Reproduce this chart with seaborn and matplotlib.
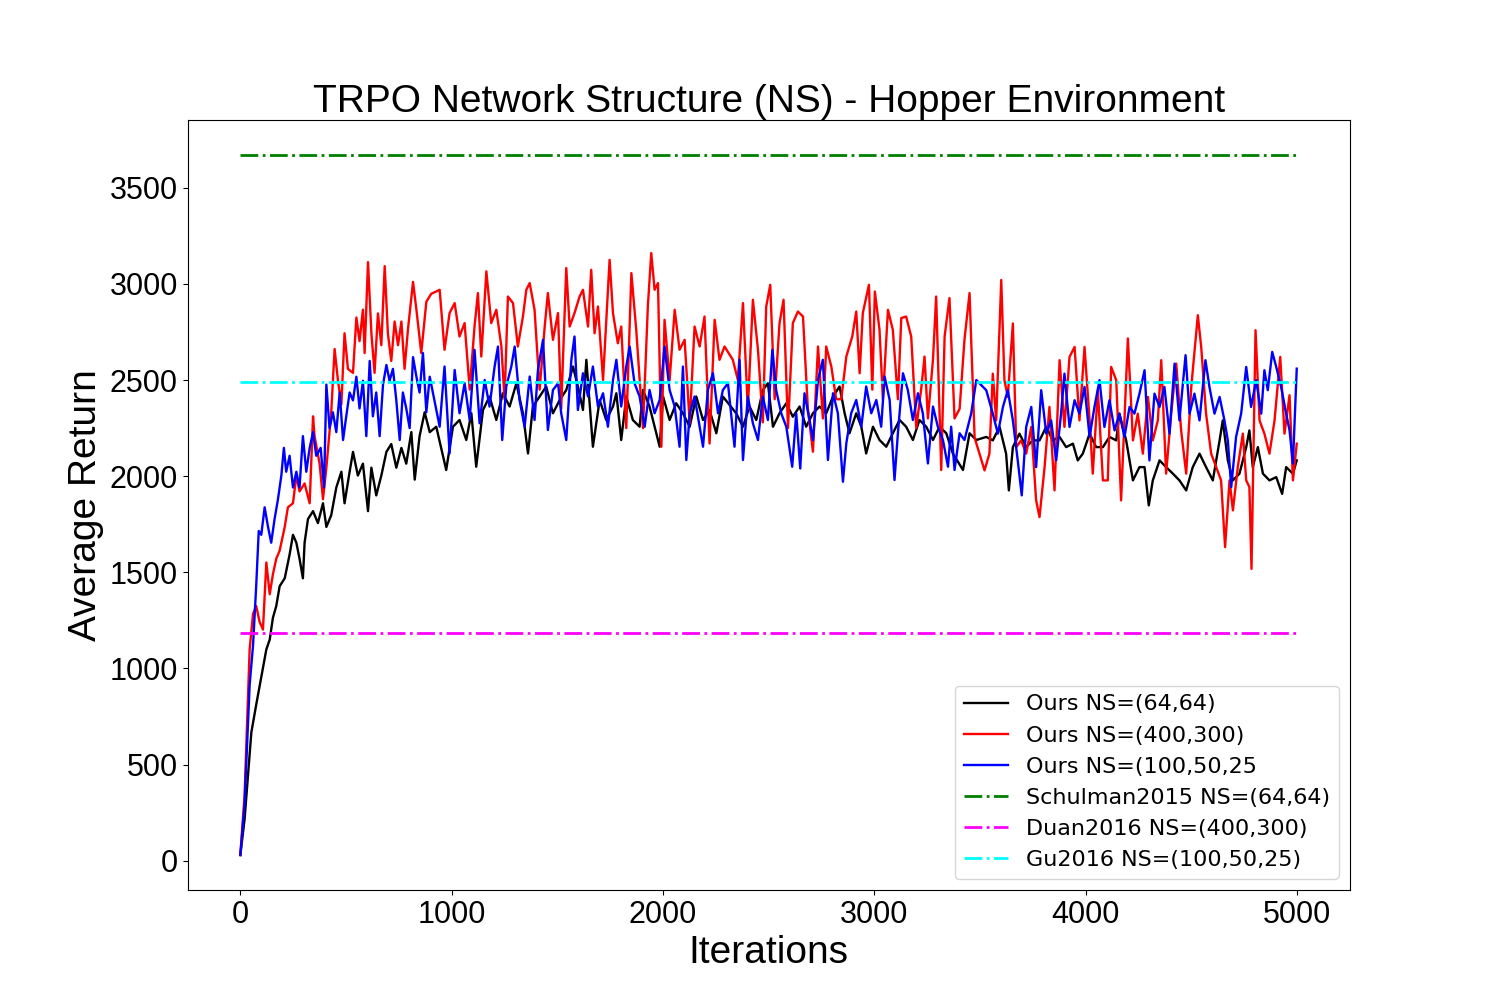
import matplotlib
matplotlib.use('Agg')
import matplotlib.pyplot as plt
import seaborn as sns

# Iterations / returns
it_black = [0, 20, 52, 75, 99, 123, 139, 154, 170, 186, 210, 233, 249, 265, 280, 296, 304, 320, 344, 367,
            391, 407, 430, 454, 478, 493, 517, 533, 556, 580, 604, 620, 643, 667, 691, 714, 738, 762, 785, 809,
            825, 848, 872, 896,
            927, 974, 1006, 1037, 1069, 1093, 1116, 1148, 1179, 1211, 1242, 1274, 1306, 1337, 1361, 1384, 1416,
            1447, 1479, 1511, 1542, 1574, 1597, 1621, 1637, 1668, 1700, 1731, 1763, 1779, 1802, 1826, 1857, 1889,
            1905, 1936, 1984, 2000, 2031, 2062, 2094, 2126, 2157, 2189, 2220, 2252, 2283,
            2346, 2378, 2409, 2441, 2472, 2496, 2520, 2551, 2583, 2614, 2646, 2677, 2709, 2740, 2772, 2804, 2835,
            2859, 2882, 2914, 2938, 2961, 2993, 3024, 3056, 3087, 3119, 3150, 3182, 3213, 3245, 3277, 3308, 3340,
            3371, 3419, 3450, 3482,
            3529, 3560, 3592, 3623, 3636, 3655, 3686, 3718, 3749, 3781, 3813, 3844, 3876, 3907, 3939, 3962, 3986,
            4018, 4049, 4081, 4112, 4144, 4159, 4191, 4223, 4254, 4278, 4298, 4317, 4349, 4380, 4412, 4443, 4475,
            4506, 4538, 4569, 4601, 4633, 4648, 4672, 4696, 4727, 4759, 4774, 4790, 4814, 4838, 4869, 4901, 4929,
            4948, 4980, 4998]
ret_black = [30, 215, 667, 811, 955, 1099, 1150, 1263, 1325, 1428, 1469, 1592, 1695, 1654, 1571, 1469, 1654, 1777,
             1818, 1756, 1859, 1736, 1797, 1941, 2023, 1859, 2023, 2126, 2003, 2065, 1818, 2044, 1900, 2003, 2126,
             2167, 2044, 2147, 2065, 2229, 1982, 2208, 2332, 2229,
             2257, 2032, 2257, 2292, 2188, 2327, 2049, 2344, 2414, 2292, 2431, 2362, 2483, 2327, 2118, 2362, 2414,
             2466, 2327, 2396, 2448, 2570, 2466, 2344, 2605, 2153, 2396, 2292, 2362, 2431, 2188, 2414, 2292, 2257,
             2448, 2362, 2153, 2414, 2292, 2379, 2327, 2257, 2414, 2292, 2344, 2223, 2414,
             2327, 2257, 2362, 2292, 2448, 2483, 2257, 2327, 2379, 2309, 2362, 2257, 2327, 2362, 2327, 2414, 2466,
             2327, 2223, 2327, 2257, 2118, 2257, 2188, 2153, 2223, 2292, 2257, 2188, 2292, 2257, 2188, 2257, 2223,
             2118, 2032, 2223, 2188,
             2204, 2186, 2256, 2117, 1926, 2151, 2221, 2151, 2186, 2186, 2256, 2186, 2204, 2151, 2169, 2082, 2117,
             2221, 2151, 2151, 2204, 2186, 2325, 2186, 1978, 2047, 2047, 1848, 1978, 2082, 2047, 2013, 1978, 1926,
             2047, 2117, 2047, 1978, 2186, 2290, 2082, 1978, 2013, 2151, 2238, 2047, 2151, 2013, 1978, 1995, 1908,
             2047, 2013, 2082]

it_red = [0, 20, 44, 60, 75, 91, 107, 123, 139, 154, 170, 186, 210, 225, 249, 265, 280, 304, 328, 344,
          351, 375, 391, 407, 430, 446, 462, 478, 493, 509, 533, 549, 564, 580, 588, 604, 620, 635, 651, 667,
          683, 698, 714, 730, 746, 762, 777, 793, 817, 833, 856, 880, 903,
          943, 966, 990, 1014, 1037, 1061, 1085, 1108, 1124, 1140, 1164, 1187, 1211, 1235, 1250, 1266, 1290, 1313,
          1337, 1353, 1369, 1392, 1416, 1440, 1455, 1479, 1503, 1518, 1542, 1558, 1581, 1605, 1621, 1645, 1660,
          1676, 1692, 1716, 1747, 1763, 1786, 1802, 1826, 1850, 1873, 1905, 1928, 1944, 1960, 1976, 1992, 2007,
          2031, 2055, 2078, 2102, 2126, 2149, 2173, 2196, 2220, 2244, 2267, 2291,
          2330, 2354, 2378, 2401, 2425, 2449, 2472, 2488, 2507, 2528, 2551, 2570, 2591, 2614, 2638, 2662, 2685,
          2709, 2733, 2756, 2772, 2796, 2819, 2843, 2867, 2895, 2914, 2930, 2945, 2974, 2990, 3002, 3024, 3040,
          3064, 3087, 3111, 3127, 3150, 3174, 3198, 3221, 3237, 3253, 3277, 3292, 3316, 3332, 3355, 3379, 3403,
          3426, 3450, 3474,
          3521, 3544, 3560, 3576, 3600, 3615, 3631, 3655, 3671, 3694, 3718, 3742, 3765, 3781, 3805, 3828, 3852,
          3876, 3899, 3923, 3947, 3970, 3994, 4018, 4033, 4057, 4081, 4104, 4120, 4144, 4167, 4183, 4199, 4223,
          4246, 4270, 4294, 4317, 4341, 4357, 4380, 4404, 4428, 4451, 4475, 4499, 4519, 4530, 4546, 4569, 4593,
          4617, 4640, 4659, 4680, 4696, 4719, 4743, 4759, 4774, 4784, 4803, 4822, 4845, 4869, 4893, 4920, 4940,
          4964, 4980, 4998]
ret_red = [30, 339, 1099, 1284, 1325, 1243, 1202, 1551, 1386, 1489, 1571, 1613, 1736, 1838, 1859, 2003, 1921, 1962,
           1859, 2311, 2208, 2065, 1880, 2044, 2332, 2661, 2496, 2373, 2743, 2558, 2537, 2825, 2702, 2866, 2640,
           3113, 2743, 2537, 2846, 2681, 3092, 2743, 2599, 2804, 2681, 2804, 2558, 2763, 3010, 2866, 2640, 2907, 2948,
           2969, 2657, 2848, 2900, 2726, 2796, 2450, 2778, 2952, 2622, 3065, 2796, 2865, 2674, 2400, 2934, 2900,
           2674, 2830, 2969, 3004, 2865, 2450, 2778, 2952, 2709, 2848, 2350, 3082, 2778, 2848, 2934, 2969, 2778,
           3073, 2743, 2882, 2500, 3125, 2848, 2691, 2778, 2250, 3056, 2761, 2250, 2882, 3160, 2969, 3004, 2153,
           2813, 2500, 2865, 2657, 2709, 2275, 2778, 2674, 2830, 2170, 2813, 2605, 2674,
           2605, 2500, 2900, 2350, 2917, 2657, 2280, 2882, 2995, 2400, 2796, 2917, 2250, 2796, 2856, 2830, 2350,
           2127, 2674, 2300, 2674, 2570, 2400, 2400, 2622, 2726, 2856, 2535, 2848, 2995, 2450, 2960, 2761, 2400,
           2865, 2761, 2400, 2822, 2830, 2726, 2250, 2450, 2622, 2300, 2605, 2934, 2032, 2726, 2926, 2300, 2350,
           2709, 2952, 2200,
           2030, 2117, 2533, 2290, 3020, 2499, 2412, 2794, 2151, 2186, 2117, 2256, 1874, 1787, 2047, 2360, 1926,
           2603, 2256, 2620, 2672, 2290, 2672, 2290, 2013, 2447, 1978, 1978, 2568, 2499, 1874, 2290, 2716, 2186,
           2325, 2117, 2412, 2186, 2290, 2603, 2013, 2325, 2585, 2238, 2013, 2464, 2707, 2837, 2672, 2325, 2117,
           2047, 1978, 1631, 1978, 1822, 2047, 2221, 1978, 1943, 1518, 2759, 2290, 2221, 2117, 2290, 2620, 2221,
           2421, 1978, 2169]

it_blue = [0, 20, 44, 60, 75, 87, 99, 115, 131, 146, 162, 178, 194, 206, 217, 233, 249, 265, 280, 296,
           312, 328, 344, 359, 380, 396, 407, 422, 438, 454, 470, 486, 501, 517, 533, 549, 564, 580, 596, 612,
           627, 643, 659, 675, 691, 706, 722, 738, 754, 769, 785, 801, 817, 833, 848, 864, 880, 896,
           943, 966, 990, 1014, 1037, 1061, 1085, 1108, 1132, 1156, 1179, 1203, 1219, 1239, 1258, 1282, 1298, 1321,
           1345, 1369, 1392, 1408, 1432, 1455, 1479, 1503, 1518, 1542, 1566, 1581, 1597, 1621, 1645, 1668, 1692,
           1716, 1739, 1763, 1779, 1802, 1826, 1842, 1865, 1889, 1913, 1936, 1960, 1984, 2007, 2031, 2055, 2078,
           2094, 2110, 2126, 2149, 2173, 2189, 2212, 2236, 2260, 2283, 2307,
           2338, 2362, 2378, 2401, 2425, 2449, 2472, 2496, 2517, 2535, 2559, 2583, 2611, 2630, 2649, 2669, 2693,
           2709, 2733, 2756, 2780, 2804, 2827, 2851, 2867, 2890, 2914, 2938, 2961, 2985, 3009, 3032, 3048, 3072,
           3095, 3111, 3135, 3158, 3182, 3206, 3229, 3253, 3277, 3300, 3324, 3348, 3363, 3379, 3403, 3426, 3458, 3482,
           3529, 3560, 3584, 3608, 3631, 3655, 3678, 3697, 3718, 3742, 3765, 3789, 3813, 3836, 3860, 3883, 3899,
           3923, 3947, 3970, 3994, 4018, 4041, 4065, 4088, 4112, 4136, 4159, 4183, 4207, 4230, 4254, 4278, 4301,
           4325, 4349, 4372, 4396, 4420, 4443, 4472, 4491, 4514, 4538, 4566, 4585, 4609, 4633, 4656, 4672, 4688,
           4711, 4735, 4759, 4782, 4806, 4830, 4845, 4861, 4882, 4901, 4924, 4948, 4964, 4980, 4998]
ret_blue = [30, 297, 914, 1119, 1428, 1715, 1695, 1838, 1736, 1654, 1777, 1880, 2003, 2147, 2023, 2106, 1941, 2023,
            1941, 2208, 2023, 2147, 2229, 2106, 2147, 1941, 2476, 2250, 2332, 2229, 2435, 2188, 2311, 2435, 2394,
            2517, 2352, 2496, 2208, 2599, 2311, 2435, 2208, 2476, 2578, 2496, 2558, 2394, 2188, 2435, 2352, 2250,
            2619, 2517, 2435, 2640, 2332, 2517,
            2257, 2570, 2118, 2552, 2327, 2483, 2292, 2657, 2275, 2500, 2362, 2570, 2674, 2188, 2466, 2570, 2674,
            2396, 2257, 2518, 2292, 2552, 2709, 2240, 2448, 2483, 2327, 2188, 2605, 2726, 2344, 2535, 2414, 2570,
            2362, 2431, 2257, 2500, 2605, 2362, 2570, 2674, 2483, 2414, 2257, 2448, 2327, 2396, 2674, 2448, 2362,
            2153, 2570, 2084, 2327, 2414, 2257, 2153, 2448, 2535, 2327, 2448, 2483,
            2153, 2605, 2084, 2414, 2275, 2188, 2414, 2292, 2657, 2448, 2327, 2257, 2049, 2327, 2040, 2431, 2292,
            2188, 2500, 2605, 2084, 2431, 2327, 1971, 2171, 2327, 2396, 2257, 2466, 2327, 2396, 2257, 2518, 2396,
            1980, 2223, 2535, 2448, 2292, 2431, 2327, 2066, 2362, 2257, 2188, 2049, 2257, 2032, 2223, 2188, 2327, 2500,
            2447, 2325, 2221, 2360, 2447, 2290, 2082, 1900, 2256, 2360, 2047, 2447, 2221, 2290, 2082, 2325, 2533,
            2256, 2395, 2325, 2464, 2204, 2360, 2499, 2256, 2395, 2238, 2325, 2204, 2360, 2325, 2429, 2551, 2082,
            2429, 2360, 2464, 2221, 2585, 2290, 2629, 2325, 2429, 2290, 2603, 2464, 2325, 2412, 2290, 2186, 1943,
            2204, 2325, 2568, 2360, 2499, 2325, 2551, 2447, 2646, 2568, 2464, 2325, 2238, 2065, 2559]

# Reference results from other papers (flat lines over the run)
base_iters = [0, 5000]
schulman2015 = 3670
duan2016 = 1187
gu2016 = 2490

fig, ax = plt.subplots(figsize=(15, 10))

sns.lineplot(x=it_black, y=ret_black, color='black', lw=1.7, label='Ours NS=(64,64)', ax=ax)
sns.lineplot(x=it_red, y=ret_red, color='red', lw=1.7, label='Ours NS=(400,300)', ax=ax)
sns.lineplot(x=it_blue, y=ret_blue, color='blue', lw=1.7, label='Ours NS=(100,50,25', ax=ax)
sns.lineplot(x=base_iters, y=[schulman2015] * 2, color='green', lw=2, linestyle='-.',
             label='Schulman2015 NS=(64,64)', ax=ax)
sns.lineplot(x=base_iters, y=[duan2016] * 2, color='magenta', lw=2, linestyle='-.',
             label='Duan2016 NS=(400,300)', ax=ax)
sns.lineplot(x=base_iters, y=[gu2016] * 2, color='cyan', lw=2, linestyle='-.',
             label='Gu2016 NS=(100,50,25)', ax=ax)

ax.set_title('TRPO Network Structure (NS) - Hopper Environment', fontsize=28, family='Liberation Sans')
ax.set_xlabel('Iterations', fontsize=28, family='Liberation Sans')
ax.set_ylabel('Average Return', fontsize=28, family='Liberation Sans')
for lab in ax.get_xticklabels() + ax.get_yticklabels():
    lab.set_family('Liberation Sans')
    lab.set_fontsize(22)
ax.legend(loc='lower right', fontsize=16)

plt.savefig('out.png', dpi=100)
